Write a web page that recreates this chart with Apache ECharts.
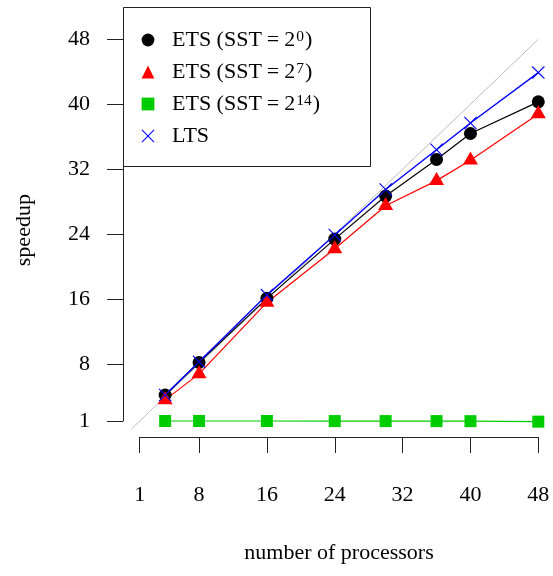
<!DOCTYPE html>
<html><head><meta charset="utf-8">
<script src="https://cdn.jsdelivr.net/npm/echarts@6/dist/echarts.min.js"></script>
<style>html,body{margin:0;padding:0;background:#fff}#c{width:553px;height:576px}</style>
</head><body><div id="c"></div>
<script>
// ---- data ----
const processors = [4, 8, 16, 24, 30, 36, 40, 48];
const ets0  = [4.2, 8.2, 16.1, 23.4, 28.7, 33.2, 36.4, 40.3];
const ets7  = [3.6, 6.8, 15.6, 22.2, 27.5, 30.6, 33.1, 38.8];
const ets14 = [1.0, 1.0, 1.0, 0.99, 0.99, 0.99, 0.98, 0.92];
const lts   = [4.2, 8.3, 16.5, 23.9, 29.5, 34.4, 37.7, 43.9];
const tickValues = [1, 8, 16, 24, 32, 40, 48];
const idealX = [0, 48];
const idealY = [0, 48];
const seriesNames = ['ETS (SST=2^0)', 'ETS (SST=2^7)', 'ETS (SST=2^14)', 'LTS'];
const xTitle = 'number of processors';
const yTitle = 'speedup';

const FONT = 'Liberation Serif';
const pair = (xs, ys) => xs.map((x, i) => [x, ys[i]]);
const crossPath = 'path://M0,6L6,0L50,44L94,0L100,6L56,50L100,94L94,100L50,56L6,100L0,94L44,50Z';

const chart = echarts.init(document.getElementById('c'), null, {renderer: 'canvas'});
const axisCommon = {
  type: 'value', min: 1, max: 48, offset: 16,
  splitLine: {show: false},
  axisLine: {show: true, lineStyle: {color: '#222', width: 1}},
  axisTick: {show: true, length: 16, lineStyle: {color: '#222', width: 1}, customValues: tickValues},
  axisLabel: {customValues: tickValues, color: '#000', fontFamily: FONT, fontSize: 22},
  nameLocation: 'middle',
  nameTextStyle: {color: '#000', fontFamily: FONT, fontSize: 22}
};
// helper grid with identical scale, starting at 0, used only for the reference diagonal
const pxPerX = (538.3 - 139.7) / 47;
const pxPerY = (421 - 39.3) / 47;
chart.setOption({
  animation: false,
  backgroundColor: '#fff',
  grid: [
    {left: 139.7, right: 14.7, top: 39.3, bottom: 155, containLabel: false},
    {left: 139.7 - pxPerX, right: 14.7, top: 39.3, bottom: 155 - pxPerY, containLabel: false}
  ],
  xAxis: [
    Object.assign({}, axisCommon, {
      gridIndex: 0, name: xTitle, nameGap: 105,
      axisLabel: Object.assign({}, axisCommon.axisLabel, {margin: 47})
    }),
    {type: 'value', gridIndex: 1, min: 0, max: 48, show: false}
  ],
  yAxis: [
    Object.assign({}, axisCommon, {
      gridIndex: 0, name: yTitle, nameGap: 88, offset: 16.7,
      axisLabel: Object.assign({}, axisCommon.axisLabel, {margin: 33})
    }),
    {type: 'value', gridIndex: 1, min: 0, max: 48, show: false}
  ],
  graphic: [{
    type: 'rect', z: 50, silent: true,
    shape: {x: 123.5, y: 7.5, width: 247, height: 159},
    style: {fill: '#fff', stroke: '#222', lineWidth: 1}
  }],
  legend: {
    z: 60, orient: 'vertical', left: 128, top: 29, padding: 0,
    itemWidth: 38, itemHeight: 16, itemGap: 10,
    data: seriesNames,
    lineStyle: {opacity: 0},
    formatter: n => n.replace('=', '{eq|=}').replace(/\^(\d+)/, '{sup|$1}'),
    textStyle: {
      color: '#000', fontFamily: FONT, fontSize: 22, lineHeight: 22,
      rich: {
        eq: {fontFamily: FONT, fontSize: 22, lineHeight: 22, padding: [0, 5, 0, 5]},
        sup: {fontFamily: FONT, fontSize: 15.5, lineHeight: 22, verticalAlign: 'top', padding: [0, 1, 0, 1]}
      }
    },
    selectedMode: false
  },
  series: [
    {type: 'line', name: 'ideal', xAxisIndex: 1, yAxisIndex: 1, data: pair(idealX, idealY),
     symbol: 'none', clip: false, silent: true, lineStyle: {color: '#bebebe', width: 1}, z: 1},
    {type: 'line', name: seriesNames[0], data: pair(processors, ets0), clip: false,
     symbol: 'circle', symbolSize: 13, color: '#000',
     itemStyle: {color: '#000'}, lineStyle: {color: '#000', width: 1.2}},
    {type: 'line', name: seriesNames[1], data: pair(processors, ets7), clip: false,
     symbol: 'triangle', symbolSize: [15, 13], symbolOffset: [0, -2.2], color: '#ff0000',
     itemStyle: {color: '#ff0000'}, lineStyle: {color: '#ff0000', width: 1.2}},
    {type: 'line', name: seriesNames[2], data: pair(processors, ets14), clip: false,
     symbol: 'rect', symbolSize: 12, color: '#00cd00',
     itemStyle: {color: '#00cd00'}, lineStyle: {color: '#00cd00', width: 1.2}},
    {type: 'line', name: seriesNames[3], data: pair(processors, lts), clip: false,
     symbol: crossPath, symbolSize: 13, color: '#0000ff',
     itemStyle: {color: '#0000ff'}, lineStyle: {color: '#0000ff', width: 1.4}}
  ]
});
</script></body></html>
